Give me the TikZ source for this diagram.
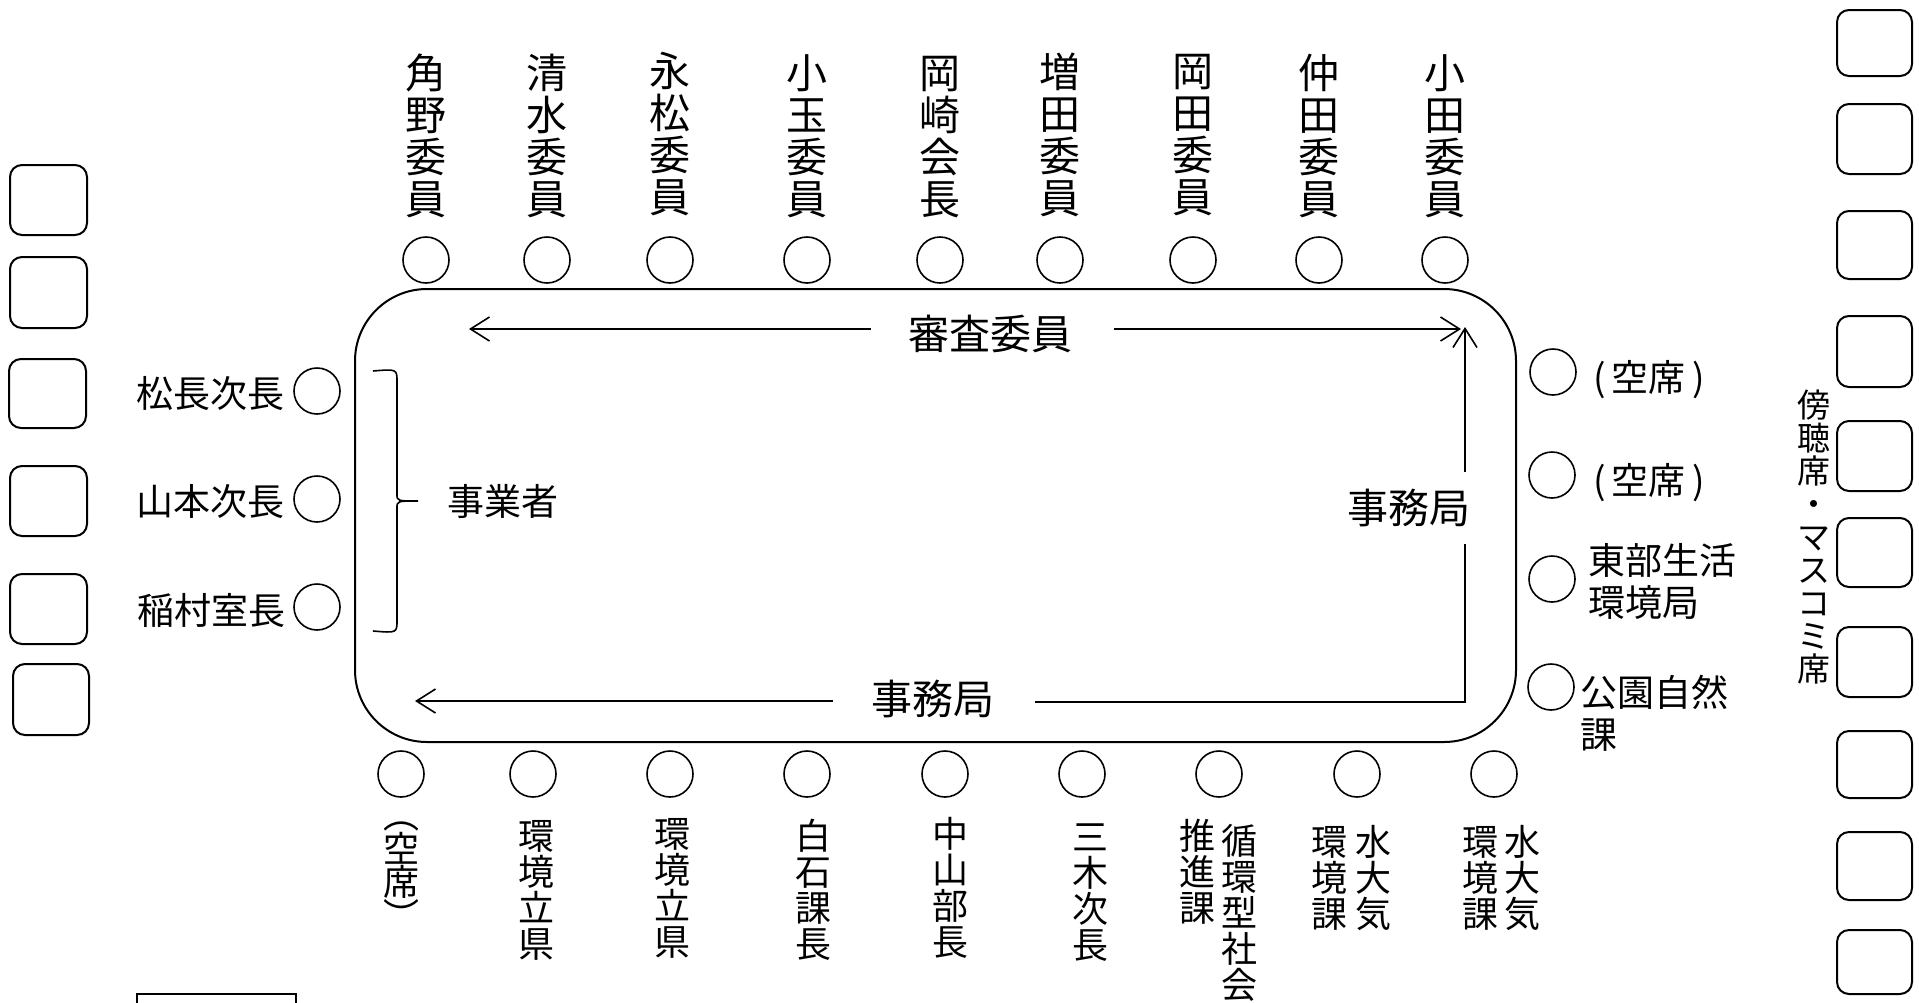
\documentclass[tikz,border=0pt]{standalone}
\usepackage{fontspec}
\setmainfont{Noto Sans CJK JP}
\usetikzlibrary{arrows.meta}
\begin{document}
\begin{tikzpicture}[x=1pt,y=-1pt,
  seat/.style={circle, draw, line width=1.6pt, minimum size=46pt, inner sep=0pt},
  vbig/.style={align=center, inner sep=0pt, font=\fontsize{41}{42}\selectfont},
  vsmall/.style={align=center, inner sep=0pt, font=\fontsize{36}{36}\selectfont},
  lbl/.style={inner sep=0pt, font=\fontsize{37}{42}\selectfont},
  biglbl/.style={inner sep=0pt, font=\fontsize{41}{42}\selectfont},
  pressbox/.style={draw, line width=2pt, rounded corners=12pt, inner sep=0pt},
  arr/.style={line width=1.6pt, -{Straight Barb[length=19pt,width=24pt]}},
  plain/.style={line width=1.6pt}
]
\useasboundingbox (0,0) rectangle (1919,1002);

% main table
\node[draw, line width=2pt, rounded corners=72pt, minimum width=1161pt, minimum height=453pt, inner sep=0pt] (table) at (935.5,515.5) {};

% top committee members
\node[vbig] (n1) at (426,136) {角\\野\\委\\員};
\node[vbig] (n2) at (547,136) {清\\水\\委\\員};
\node[vbig] (n3) at (670,134) {永\\松\\委\\員};
\node[vbig] (n4) at (807,136) {小\\玉\\委\\員};
\node[vbig] (n5) at (940,137) {岡\\崎\\会\\長};
\node[vbig] (n6) at (1060,135) {増\\田\\委\\員};
\node[vbig] (n7) at (1193,135) {岡\\田\\委\\員};
\node[vbig] (n8) at (1319,136) {仲\\田\\委\\員};
\node[vbig] (n9) at (1445,136) {小\\田\\委\\員};

\node[seat] (t1) at (426,260) {};
\node[seat] (t2) at (547,260) {};
\node[seat] (t3) at (670,260) {};
\node[seat] (t4) at (807,260) {};
\node[seat] (t5) at (940,260) {};
\node[seat] (t6) at (1060,260) {};
\node[seat] (t7) at (1193,260) {};
\node[seat] (t8) at (1319,260) {};
\node[seat] (t9) at (1445,260) {};

% bottom seats
\node[seat] (b1) at (401,774) {};
\node[seat] (b2) at (533,774) {};
\node[seat] (b3) at (670,774) {};
\node[seat] (b4) at (807,774) {};
\node[seat] (b5) at (945,774) {};
\node[seat] (b6) at (1082,774) {};
\node[seat] (b7) at (1219,774) {};
\node[seat] (b8) at (1357,774) {};
\node[seat] (b9) at (1494,774) {};

\node[vsmall, font=\fontsize{36}{32}\selectfont] (m1) at (401,876) {︵\\空\\席\\︶};
\node[vsmall] (m2) at (536,890) {環\\境\\立\\県};
\node[vsmall] (m3) at (672,888) {環\\境\\立\\県};
\node[vsmall] (m4) at (813,890) {白\\石\\課\\長};
\node[vsmall] (m5) at (950,888) {中\\山\\部\\長};
\node[vsmall] (m6) at (1090,893) {三\\木\\次\\長};
\node[vsmall] (m7a) at (1239,913) {循\\環\\型\\社\\会};
\node[vsmall] (m7b) at (1197,872) {推\\進\\課};
\node[vsmall] (m8a) at (1373,878) {水\\大\\気};
\node[vsmall] (m8b) at (1329,878) {環\\境\\課};
\node[vsmall] (m9a) at (1522,878) {水\\大\\気};
\node[vsmall] (m9b) at (1480,878) {環\\境\\課};

% left seats
\node[seat] (l1) at (317,391) {};
\node[seat] (l2) at (317,499) {};
\node[seat] (l3) at (317,607) {};
\node[lbl, anchor=east] (ll1) at (285,393) {松長次長};
\node[lbl, anchor=east] (ll2) at (285,502) {山本次長};
\node[lbl, anchor=east] (ll3) at (286,610) {稲村室長};

% bracket
\coordinate (brtop) at (373,371);
\coordinate (brtip) at (418,501);
\coordinate (brbot) at (373,631);
\draw[plain] (brtop) .. controls (397,369) .. (397,382) -- (397,494)
  .. controls (397,501) .. (brtip) .. controls (397,501) .. (397,508)
  -- (397,620) .. controls (397,633) .. (brbot);
\node[lbl, anchor=west] (jigyo) at (447,501) {事業者};

% right seats
\node[seat] (r1) at (1553,372) {};
\node[seat] (r2) at (1552,475) {};
\node[seat] (r3) at (1552,579) {};
\node[seat] (r4) at (1551,687) {};
\node[lbl, anchor=west] (rl1) at (1593,380) {(\,空席\,)};
\node[lbl, anchor=west] (rl2) at (1593,483) {(\,空席\,)};
\node[lbl, anchor=west, align=left] (rl3) at (1588,581) {東部生活\\環境局};
\node[lbl, anchor=west, align=left] (rl4) at (1580,713) {公園自然\\課};

% labels and arrows inside table
\node[biglbl] (shinsa) at (990,334) {審査委員};
\node[biglbl] (jimu1) at (1409,508) {事務局};
\node[biglbl] (jimu2) at (933,699) {事務局};

\coordinate (a1s) at (871,329);
\coordinate (a1e) at (469,329);
\coordinate (a2s) at (1114,329);
\coordinate (a2e) at (1461,329);
\coordinate (a3s) at (1465,472);
\coordinate (a3e) at (1465,327);
\coordinate (a4s) at (1465,544);
\coordinate (corner) at (1465,702);
\coordinate (a4m) at (1035,702);
\coordinate (a5s) at (833,701);
\coordinate (a5e) at (415,701);
\draw[arr] (a1s) -- (a1e);
\draw[arr] (a2s) -- (a2e);
\draw[arr] (a3s) -- (a3e);
\draw[plain] (a4s) -- (corner) -- (a4m);
\draw[arr] (a5s) -- (a5e);

% left press boxes
\node[pressbox, minimum width=77pt, minimum height=70pt] (lb1) at (48.5,200) {};
\node[pressbox, minimum width=77pt, minimum height=71pt] (lb2) at (48.5,292.5) {};
\node[pressbox, minimum width=77pt, minimum height=69pt] (lb3) at (47.5,393.5) {};
\node[pressbox, minimum width=77pt, minimum height=70pt] (lb4) at (48.5,501) {};
\node[pressbox, minimum width=77pt, minimum height=70pt] (lb5) at (48.5,609) {};
\node[pressbox, minimum width=76pt, minimum height=71pt] (lb6) at (51,699.5) {};

% right press boxes
\node[pressbox, minimum width=75pt, minimum height=66pt] (rb1) at (1874.5,43) {};
\node[pressbox, minimum width=75pt, minimum height=70pt] (rb2) at (1874.5,139) {};
\node[pressbox, minimum width=75pt, minimum height=68pt] (rb3) at (1874.5,245) {};
\node[pressbox, minimum width=75pt, minimum height=71pt] (rb4) at (1874.5,351.5) {};
\node[pressbox, minimum width=75pt, minimum height=70pt] (rb5) at (1874.5,456) {};
\node[pressbox, minimum width=75pt, minimum height=69pt] (rb6) at (1874.5,552.5) {};
\node[pressbox, minimum width=75pt, minimum height=70pt] (rb7) at (1874.5,662) {};
\node[pressbox, minimum width=75pt, minimum height=67pt] (rb8) at (1874.5,764.5) {};
\node[pressbox, minimum width=75pt, minimum height=68pt] (rb9) at (1874.5,866) {};
\node[pressbox, minimum width=75pt, minimum height=64pt] (rb10) at (1874.5,962) {};

% press label (vertical)
\node[align=center, inner sep=0pt, font=\fontsize{33}{33}\selectfont] (press) at (1814,537) {傍\\聴\\席\\・\\マ\\ス\\コ\\ミ\\席};

% bottom-left box
\node[draw, line width=2pt, minimum width=159pt, minimum height=40pt, inner sep=0pt, anchor=north west] (legend) at (136,993) {};
\end{tikzpicture}
\end{document}
